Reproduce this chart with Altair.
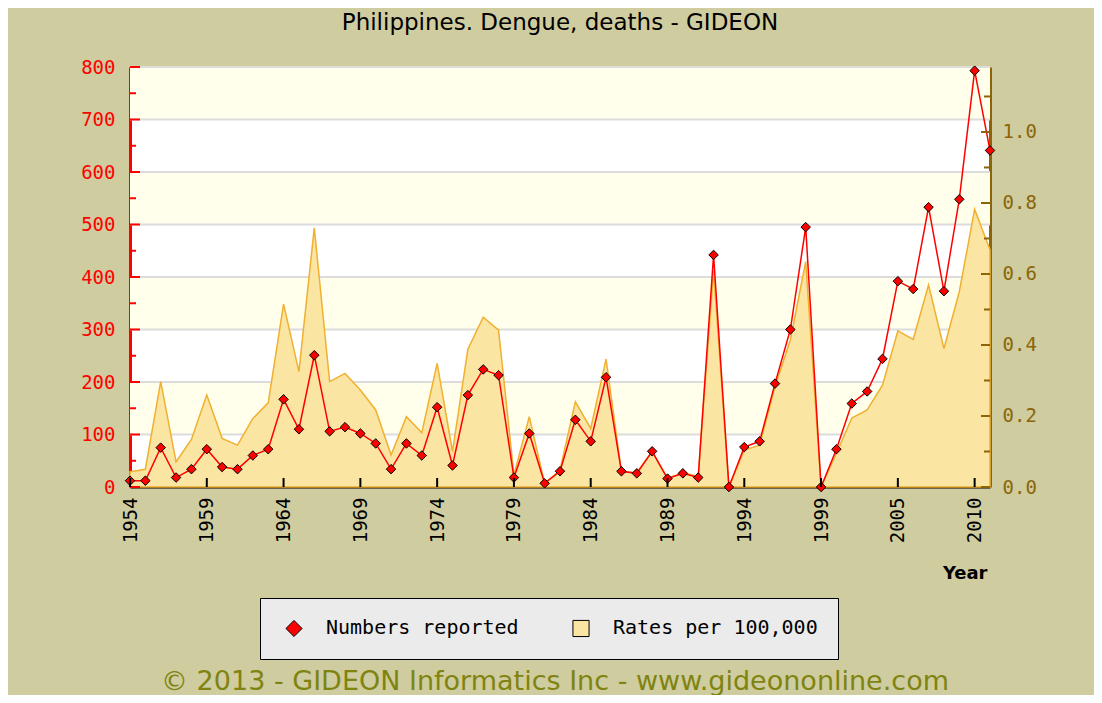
import altair as alt
import pandas as pd

# ---------------- data ----------------
years = list(range(1954, 2000)) + [2000, 2001, 2002, 2003] + list(range(2005, 2012))

numbers = [12, 12, 75, 18, 34, 72, 38, 34, 60, 72,
           167, 110, 251, 106, 114, 102, 83, 34, 83, 60,
           152, 41, 175, 224, 213, 18, 102, 7, 30, 128,
           87, 209, 30, 26, 68, 16, 26, 18, 442, 0,
           76, 87, 197, 300, 495, 0,
           72, 159, 182, 244,
           392, 377, 533, 373, 548, 793, 641]

rates = [0.043, 0.05, 0.297, 0.071, 0.134, 0.259, 0.137, 0.118, 0.193, 0.237,
         0.515, 0.325, 0.73, 0.297, 0.32, 0.273, 0.217, 0.09, 0.198, 0.153,
         0.348, 0.1, 0.388, 0.478, 0.442, 0.034, 0.198, 0.01, 0.048, 0.24,
         0.165, 0.36, 0.043, 0.04, 0.1, 0.025, 0.04, 0.03, 0.61, 0.0,
         0.104, 0.118, 0.283, 0.414, 0.635, 0.0,
         0.095, 0.194, 0.217, 0.287,
         0.44, 0.416, 0.569, 0.39, 0.55, 0.782, 0.668]

label_years = [1954, 1959, 1964, 1969, 1974, 1979, 1984, 1989, 1994, 1999, 2005, 2010]
left_major = [0, 100, 200, 300, 400, 500, 600, 700, 800]
left_minor = [50, 150, 250, 350, 450, 550, 650, 750]
right_major = [0.0, 0.2, 0.4, 0.6, 0.8, 1.0]
right_minor = [0.1, 0.3, 0.5, 0.7, 0.9, 1.1]
band_lo = [100, 300, 500, 700]
band_hi = [200, 400, 600, 800]
grid_vals = [100, 200, 300, 400, 500, 600, 700, 800]

series_names = ["Numbers reported", "Rates per 100,000"]
title_text = "Philippines. Dengue, deaths - GIDEON"
copyright_text = "\u00a9 2013 - GIDEON Informatics Inc - www.gideononline.com"

# ---------------- styling ----------------
W, H = 860, 420
LEFT_MAX = 800
RIGHT_MAX = 1.183
BG = "#CFCC9F"
BAND = "#FFFFEC"
GRID = "#DCDCDC"
RED = "#FF0000"
AREA_FILL = "#FBE5A3"
AREA_LINE = "#F0B030"
BROWN = "#8B6508"
MONO = "DejaVu Sans Mono"
SANS = "DejaVu Sans"

df = pd.DataFrame({"year": years, "numbers": numbers, "rates": rates})

left_scale = alt.Scale(domain=[0, LEFT_MAX], nice=False, zero=True)
right_scale = alt.Scale(domain=[0, RIGHT_MAX], nice=False, zero=True)
color_scale = alt.Scale(domain=series_names, range=[RED, AREA_FILL])
shape_scale = alt.Scale(domain=series_names, range=["diamond", "square"])

legend = alt.Legend(
    title=None, orient="none", legendX=130, legendY=531, direction="horizontal",
    fillColor="#EBEBEB", strokeColor="black", padding=20,
    labelFont=MONO, labelFontSize=20, labelColor="black", labelLimit=400,
    symbolSize=260, symbolStrokeColor="black", symbolStrokeWidth=1,
    symbolOffset=4, columnPadding=48, labelOffset=22,
)

x_axis = alt.Axis(
    values=label_years, labelAngle=270, labelFont=MONO, labelFontSize=19,
    labelColor="black", labelPadding=10, ticks=False, tickSize=0,
    domainColor="black", domainWidth=2, grid=False,
    title="Year", titleFont=SANS, titleFontSize=18, titleFontWeight="bold",
    titleColor="black", titleAnchor="end", titleAlign="right",
    titleX=W - 3, titleY=91, titleBaseline="alphabetic",
)
xenc = alt.X("year:O", scale=alt.Scale(type="point", padding=0), axis=x_axis)

base = alt.Chart(df)

bands = alt.Chart(pd.DataFrame({"lo": band_lo, "hi": band_hi})).mark_rect(color=BAND).encode(
    y=alt.Y("lo:Q", scale=left_scale, axis=None),
    y2="hi:Q",
    x=alt.value(0), x2=alt.value(W),
)

grid = alt.Chart(pd.DataFrame({"v": grid_vals})).mark_rule(color=GRID, strokeWidth=2).encode(
    y=alt.Y("v:Q", scale=left_scale, axis=None),
)

area = base.transform_calculate(series="'Rates per 100,000'").mark_area(
    stroke=AREA_LINE, strokeWidth=1.5, opacity=1
).encode(
    x=xenc,
    y=alt.Y("rates:Q", scale=right_scale, axis=alt.Axis(
        orient="right", values=right_major, format=".1f", domainColor=BROWN,
        domainWidth=3, ticks=False, tickSize=0, labelColor=BROWN, labelFont=MONO,
        labelFontSize=19, labelPadding=12, grid=False, title=None)),
    color=alt.Color("series:N", scale=color_scale, legend=legend),
)

line = base.mark_line(color=RED, strokeWidth=1.5).encode(
    x=xenc,
    y=alt.Y("numbers:Q", scale=left_scale, axis=alt.Axis(
        orient="left", values=left_major, domainColor=RED, domainWidth=3,
        ticks=False, tickSize=0, labelColor=RED, labelFont=MONO, labelFontSize=19,
        labelPadding=15, grid=False, title=None)),
)

points = base.transform_calculate(series="'Numbers reported'").mark_point(
    filled=True, stroke="black", strokeWidth=1, size=90, opacity=1
).encode(
    x=xenc,
    y=alt.Y("numbers:Q", scale=left_scale, axis=None),
    color=alt.Color("series:N", scale=color_scale, legend=legend),
    shape=alt.Shape("series:N", scale=shape_scale, legend=legend),
)

lt_major = alt.Chart(pd.DataFrame({"v": left_major})).mark_rule(color=RED, strokeWidth=2).encode(
    y=alt.Y("v:Q", scale=left_scale, axis=None), x=alt.value(0), x2=alt.value(10))
lt_minor = alt.Chart(pd.DataFrame({"v": left_minor})).mark_rule(color=RED, strokeWidth=2).encode(
    y=alt.Y("v:Q", scale=left_scale, axis=None), x=alt.value(0), x2=alt.value(6))
rt_major = alt.Chart(pd.DataFrame({"v": right_major})).mark_rule(color=BROWN, strokeWidth=2).encode(
    y=alt.Y("v:Q", scale=right_scale, axis=None), x=alt.value(W), x2=alt.value(W - 9))
rt_minor = alt.Chart(pd.DataFrame({"v": right_minor})).mark_rule(color=BROWN, strokeWidth=2).encode(
    y=alt.Y("v:Q", scale=right_scale, axis=None), x=alt.value(W), x2=alt.value(W - 6))
x_ticks = alt.Chart(pd.DataFrame({"year": label_years})).mark_rule(color="black", strokeWidth=2).encode(
    x=xenc, y=alt.value(H), y2=alt.value(H - 9))

copyright_mark = alt.Chart(pd.DataFrame({"t": [copyright_text]})).mark_text(
    font=SANS, fontSize=27, color="#7F8410", align="center", baseline="alphabetic"
).encode(text="t:N", x=alt.value(425), y=alt.value(623))

chart = alt.layer(
    bands, grid, area, line, points, lt_major, lt_minor, rt_major, rt_minor, x_ticks, copyright_mark
).resolve_scale(y="independent").properties(
    width=W, height=H,
    autosize="none",
    padding={"left": 122, "top": 59, "right": 104, "bottom": 208},
    background=BG,
    title=alt.TitleParams(title_text, font=SANS, fontSize=23, fontWeight="normal",
                          color="black", anchor="middle", frame="group", offset=23),
).configure_view(fill="white", stroke="transparent")

chart.save("out.html", embed_options={"renderer": "svg", "actions": False})
